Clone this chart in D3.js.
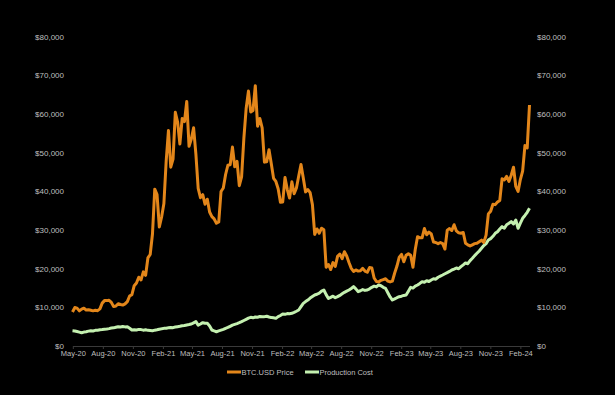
<!DOCTYPE html>
<html>
<head>
<meta charset="utf-8">
<script src="https://cdn.jsdelivr.net/npm/d3@7"></script>
<style>
  html, body { margin: 0; padding: 0; background: #000; }
  svg { display: block; }
  text { font-family: "Liberation Sans", Arial, sans-serif; }
</style>
</head>
<body>
<svg id="chart" width="615" height="395"></svg>
<script>
// ---- data (weekly observations starting 2020-04-30) ----
const startDate = "2020-04-30";
const stepDays = 7;

const btcPrice = [
  8800, 9950, 9800, 9100, 9550, 9800, 9300, 9400, 9250, 9100,
  9250, 9150, 9600, 11100, 11750, 11750, 11850, 11300, 10200, 10350,
  10950, 10750, 10600, 10900, 11500, 12950, 13300, 15600, 16300, 17800,
  17100, 19200, 18300, 22800, 23700, 29000, 40600, 39200, 30800, 33400,
  36900, 47900, 55800, 46300, 48400, 60500, 58000, 52300, 58900, 58100,
  63300, 51700, 53600, 56500, 49700, 40800, 38400, 39200, 36700, 38000,
  34700, 33500, 32900, 31800, 32100, 40000, 40900, 44400, 46800, 46900,
  51500, 46400, 47800, 41500, 43800, 53800, 61500, 66000, 60600, 61000,
  67400, 56900, 58900, 56500, 47600, 47700, 50800, 47200, 43400, 42600,
  40700, 37200, 37300, 43600, 40500, 38300, 42500, 39400, 40900, 44000,
  47000, 43500, 39900, 40500, 39700, 36600, 28900, 30300, 29200, 30500,
  30100, 20400, 21100, 19800, 21600, 20600, 23200, 23800, 22600, 24400,
  23300, 21600, 20100, 19300, 19700, 19400, 19500, 20100, 19400, 19100,
  20300, 20200, 17600, 16700, 16600, 17000, 17200, 17400, 16800, 16600,
  16800, 18900, 20700, 23000, 23700, 21800, 23500, 23900, 23500, 20400,
  25000, 28300, 28000, 28000, 30400, 28800, 29500, 29000, 26900, 26800,
  26500, 26800, 26500, 25100, 30000, 30400, 29900, 31400, 29800, 29300,
  29200, 29400, 26600, 26200, 25900, 26200, 26500, 26600, 27000, 27400,
  26800, 28700, 34200, 34900, 36700, 36600, 37300, 37700, 43300, 43000,
  43900, 42600, 44200, 46300, 41300, 40000, 43100, 45300, 51900, 51300,
  62400
];

const productionCost = [
  3960, 3900, 3750, 3600, 3440, 3600, 3700, 3850, 3960, 3900,
  4050, 4100, 4200, 4250, 4320, 4400, 4500, 4650, 4700, 4850,
  5000, 4900, 5050, 4950, 5000, 4600, 4140, 4200, 4150, 4300,
  4250, 4100, 4200, 4050, 4000, 3960, 4100, 4200, 4350, 4450,
  4570, 4600, 4700, 4800, 4750, 4900, 5000, 5100, 5250, 5300,
  5450, 5550, 5690, 6000, 6300, 5400, 5700, 6040, 5900, 5860,
  5200, 4140, 3900, 3700, 3900, 4100, 4300, 4570, 4800, 5100,
  5400, 5600, 5800, 6040, 6300, 6600, 6900, 7200, 7420, 7300,
  7500, 7450, 7650, 7550, 7600, 7700, 7500, 7350, 7300, 7160,
  7600, 7900, 8280, 8200, 8400, 8350, 8460, 8700, 9000, 9320,
  10200, 11040, 11500, 11900, 12400, 12800, 13200, 13400, 13700, 14200,
  14500, 13300, 12300, 12600, 12900, 12500, 12770, 13100, 13500, 13900,
  14200, 14500, 14900, 15360, 14800, 14070, 14300, 14600, 14400, 14500,
  14800, 15200, 15500, 15300, 15800, 15600, 15200, 14930, 13800, 12700,
  11900, 12200, 12500, 12770, 12900, 13100, 13200, 14200, 15190, 15000,
  15500, 15800, 16200, 16650, 16500, 16900, 16700, 17090, 17400, 17300,
  17800, 18100, 18380, 18700, 19000, 19300, 19680, 19900, 20200, 20000,
  20540, 21000, 21500, 21300, 22100, 22700, 23400, 24000, 24600, 25290,
  26000, 26500, 27440, 27800, 28400, 29170, 29600, 30300, 30900, 30500,
  31400, 31760, 32200, 31600, 32620, 30470, 31800, 33060, 33800, 34600,
  35650
];

const xTickDates = [
  "2020-05-01", "2020-08-01", "2020-11-01", "2021-02-01", "2021-05-01", "2021-08-01",
  "2021-11-01", "2022-02-01", "2022-05-01", "2022-08-01", "2022-11-01", "2023-02-01",
  "2023-05-01", "2023-08-01", "2023-11-01", "2024-02-01"
];
const yTicks = [0, 10000, 20000, 30000, 40000, 50000, 60000, 70000, 80000];
const seriesNames = ["BTC.USD Price", "Production Cost"];

// ---- drawing ----
const svg = d3.select("#chart");
const parse = d3.utcParse("%Y-%m-%d");
const start = parse(startDate);
const dates = btcPrice.map((_, i) => d3.utcDay.offset(start, i * stepDays));

const x = d3.scaleUtc()
  .domain([dates[0], dates[dates.length - 1]])
  .range([72.5, 529.5]);
const y = d3.scaleLinear().domain([0, 80000]).range([346, 37]);

const colors = ["#E3861A", "#C4F0B0"];
const labelColor = "#BFBFBF";
const fmt = d3.format("$,.0f");
const monthFmt = d3.utcFormat("%b-%y");

// left axis labels
svg.append("g").selectAll("text").data(yTicks).join("text")
  .attr("x", 64).attr("y", d => y(d)).attr("dy", "0.35em")
  .attr("text-anchor", "end").attr("font-size", 8).attr("fill", labelColor)
  .text(d => fmt(d));

// right axis labels
svg.append("g").selectAll("text").data(yTicks).join("text")
  .attr("x", 537).attr("y", d => y(d)).attr("dy", "0.35em")
  .attr("text-anchor", "start").attr("font-size", 8).attr("fill", labelColor)
  .text(d => fmt(d));

// bottom axis
const xAxis = d3.axisBottom(x)
  .tickValues(xTickDates.map(parse))
  .tickFormat(monthFmt)
  .tickSize(3)
  .tickSizeOuter(0);
const gx = svg.append("g").attr("transform", "translate(0,346)").call(xAxis);
gx.select(".domain").attr("stroke", "#3a3a3a").attr("stroke-width", 1);
gx.selectAll(".tick line").attr("stroke", "#3a3a3a");
gx.selectAll(".tick text")
  .attr("fill", labelColor).attr("font-size", 7.5)
  .attr("font-family", "Liberation Sans, Arial, sans-serif")
  .attr("dy", "0.9em").attr("y", 3);

// lines
const line = d3.line().x((d, i) => x(dates[i])).y(d => y(d)).curve(d3.curveLinear);

svg.append("path").datum(productionCost)
  .attr("fill", "none").attr("stroke", colors[1]).attr("stroke-width", 3)
  .attr("stroke-linejoin", "round").attr("d", line);

svg.append("path").datum(btcPrice)
  .attr("fill", "none").attr("stroke", colors[0]).attr("stroke-width", 3)
  .attr("stroke-linejoin", "round").attr("d", line);

// legend
const legend = svg.append("g");
const legendItems = [
  { name: seriesNames[0], color: colors[0], x0: 227 },
  { name: seriesNames[1], color: colors[1], x0: 305 }
];
legendItems.forEach(it => {
  legend.append("line")
    .attr("x1", it.x0).attr("x2", it.x0 + 14).attr("y1", 372).attr("y2", 372)
    .attr("stroke", it.color).attr("stroke-width", 3);
  legend.append("text")
    .attr("x", it.x0 + 14.5).attr("y", 372).attr("dy", "0.35em")
    .attr("font-size", 7.5).attr("fill", labelColor).text(it.name);
});
</script>
</body>
</html>
